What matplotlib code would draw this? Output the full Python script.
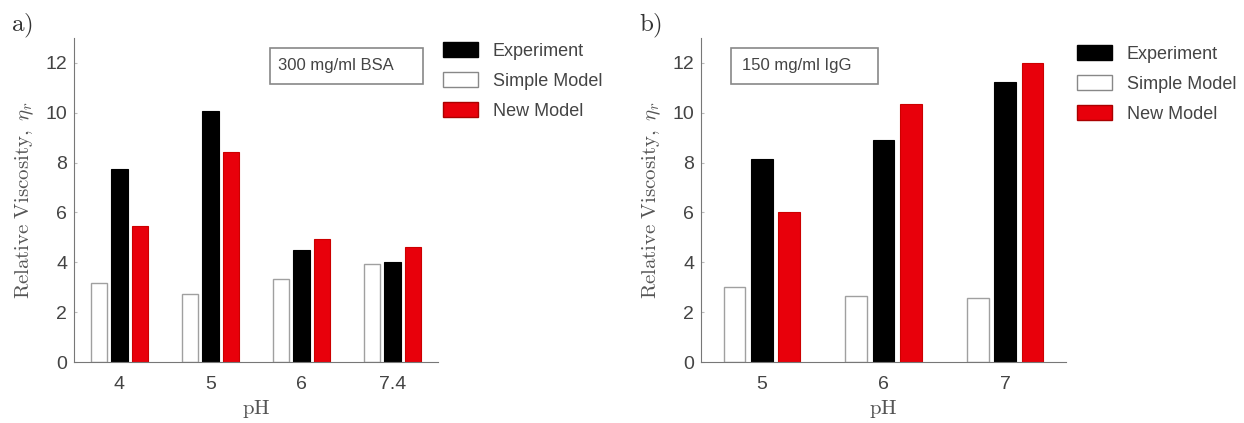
import numpy as np
import matplotlib.pyplot as plt
from matplotlib.patches import Patch, Rectangle

plt.rcParams['mathtext.fontset'] = 'cm'
plt.rcParams['font.family'] = 'Liberation Sans'

# Panel a) 300 mg/ml BSA
ph_a = ['4', '5', '6', '7.4']
simple_a = [3.17, 2.73, 3.34, 3.93]
exp_a = [7.76, 10.06, 4.48, 4.01]
new_a = [5.44, 8.43, 4.94, 4.60]

# Panel b) 150 mg/ml IgG
ph_b = ['5', '6', '7']
simple_b = [3.02, 2.65, 2.57]
exp_b = [8.14, 8.91, 11.22]
new_b = [6.03, 10.35, 12.0]

yticks = [0, 2, 4, 6, 8, 10, 12]

W, H = 1244, 423
fig = plt.figure(figsize=(W / 100, H / 100), dpi=100)

gray = '#777777'
txt = '#444444'
red = '#e8000b'


def panel(rect, labels, simple, exp, new, note, box_x, box_w, letter, letter_x,
          leg_x, leg_y):
    ax = fig.add_axes(rect)
    x = np.arange(len(labels))
    w = 0.18
    d = 0.225
    ax.bar(x - d, simple, w, color='white', edgecolor='#a0a0a0', linewidth=1)
    ax.bar(x, exp, w, color='black', edgecolor='black', linewidth=0.8)
    ax.bar(x + d, new, w, color=red, edgecolor='#cc0000', linewidth=0.8)
    ax.set_xlim(-0.5, len(labels) - 0.5)
    ax.set_ylim(0, 13)
    ax.set_yticks(yticks)
    ax.set_xticks(x)
    ax.set_xticklabels(labels)
    ax.tick_params(axis='both', colors='#bbbbbb', labelcolor=txt, labelsize=14,
                   direction='in', length=2)
    ax.tick_params(axis='y', pad=5)
    ax.tick_params(axis='x', length=0, pad=10)
    for s in ['top', 'right']:
        ax.spines[s].set_visible(False)
    for s in ['left', 'bottom']:
        ax.spines[s].set_color(gray)
    ax.set_ylabel(r'$\mathrm{Relative\ Viscosity,}\ \eta_r$', fontsize=15,
                  color='#555555', labelpad=7)
    ax.set_xlabel(r'$\mathrm{pH}$', fontsize=15, color='#555555', labelpad=4)
    # text box in the upper part of the panel
    ax.add_patch(Rectangle((box_x, 11.16), box_w, 1.45, fc='white',
                           ec='#888888', lw=1.2))
    ax.text(box_x + 0.09, 11.88, note, fontsize=12, color=txt,
            va='center', ha='left')
    fig.text(letter_x, 0.972, letter, fontsize=18, color='#333333', va='top')
    handles = [Patch(facecolor='black', edgecolor='black'),
               Patch(facecolor='white', edgecolor='#888888'),
               Patch(facecolor=red, edgecolor='#aa0000')]
    fig.legend(handles, ['Experiment', 'Simple Model', 'New Model'],
               loc='upper left', bbox_to_anchor=(leg_x, leg_y), frameon=False,
               fontsize=13, handlelength=1.95, handleheight=0.9,
               labelspacing=0.68, handletextpad=0.8, labelcolor=txt)
    return ax


panel([74 / W, 61 / H, 364 / W, 324 / H], ph_a, simple_a, exp_a, new_a,
      '300 mg/ml BSA', 1.65, 1.68, r'$\mathrm{a)}$', 11 / W, 427 / W, 0.9385)
panel([701 / W, 61 / H, 365 / W, 324 / H], ph_b, simple_b, exp_b, new_b,
      '150 mg/ml IgG', -0.255, 1.21, r'$\mathrm{b)}$', 639 / W, 1061 / W, 0.931)

fig.savefig('out.png', dpi=100)
